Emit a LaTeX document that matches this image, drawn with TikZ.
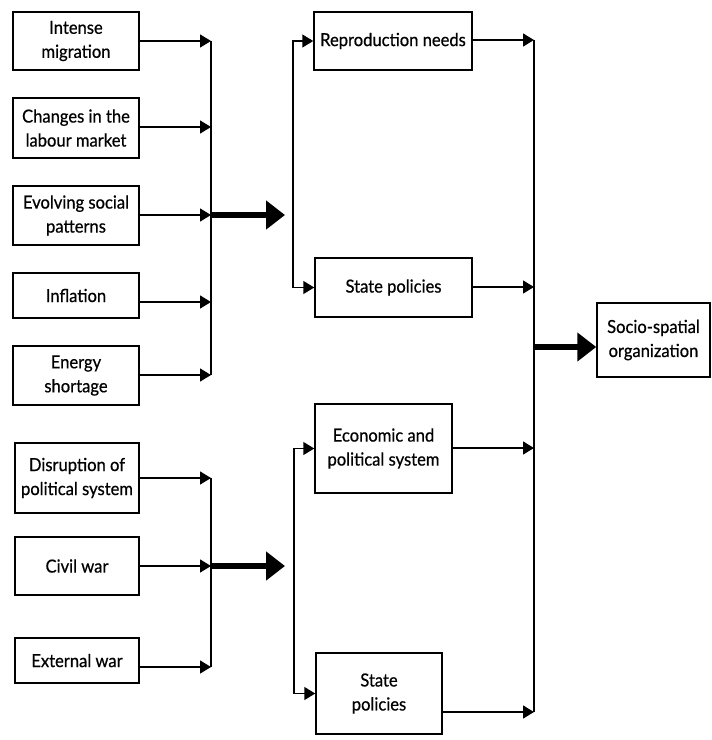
\documentclass[tikz,border=0pt]{standalone}
\usepackage{fontspec}
\setmainfont{Lato}[FakeStretch=0.92, FakeBold=0.6]
\usetikzlibrary{arrows.meta}
\begin{document}
\begin{tikzpicture}[x=1pt,y=-1pt,
  box/.style={draw, line width=1.5pt, inner sep=0pt, align=center,
    font=\fontsize{18}{24}\selectfont},
  link/.style={line width=1.5pt, -{Triangle[length=11pt,width=13pt]}},
  busline/.style={line width=1.5pt},
  bigarrow/.style={line width=6.5pt, -{Triangle[length=19pt,width=28pt]}}]
\useasboundingbox (0,0) rectangle (712,740);

% causes, upper group
\node[box, minimum width=126pt, minimum height=58pt] (im)  at (76,41)    {Intense\\migration};
\node[box, minimum width=126pt, minimum height=60pt] (lab) at (76,128)   {Changes in the\\labour market};
\node[box, minimum width=126pt, minimum height=59pt] (evo) at (76,215.5) {Evolving social\\patterns};
\node[box, minimum width=126pt, minimum height=45pt] (inf) at (76,295.5) {Inflation};
\node[box, minimum width=126pt, minimum height=59pt] (ene) at (76,375.5) {Energy\\shortage};

% causes, lower group
\node[box, minimum width=124pt, minimum height=70pt] (dis) at (77,478)   {Disruption of\\political system};
\node[box, minimum width=124pt, minimum height=58pt] (civ) at (77,566)   {Civil war};
\node[box, minimum width=124pt, minimum height=45pt] (ext) at (77,660.5) {External war};

% intermediate factors
\node[box, minimum width=158pt, minimum height=58pt] (rep) at (393,41)    {Reproduction needs};
\node[box, minimum width=157pt, minimum height=59pt] (sp1) at (393.5,287.5) {State policies};
\node[box, minimum width=137pt, minimum height=89pt] (eco) at (383.5,448.5) {Economic and\\political system};
\node[box, minimum width=126pt, minimum height=81pt] (sp2) at (379,693.5) {State\\policies};

% outcome
\node[box, minimum width=113pt, minimum height=74pt] (soc) at (653.5,340) {Socio-spatial\\organization};

% collector buses
\coordinate (a1) at (211,41);
\coordinate (a2) at (211,127);
\coordinate (a3) at (211,215);
\coordinate (a4) at (211,302);
\coordinate (a5) at (211,375);
\coordinate (c1) at (211,478);
\coordinate (c2) at (211,566);
\coordinate (c3) at (211,667);
\coordinate (ha) at (285,215);
\coordinate (hc) at (285,566);
\coordinate (bm) at (293,215);
\coordinate (dm) at (294,566);
\coordinate (r1) at (534,40);
\coordinate (r2) at (534,287);
\coordinate (r3) at (534,448);
\coordinate (r4) at (534,712);
\coordinate (r5) at (534,347);

\draw[busline] (a1) -- (a5);
\draw[busline] (c1) -- (c3);
\draw[busline] (r1) -- (r4);

\draw[link] (im.east)  -- (a1);
\draw[link] (lab.east |- a2) -- (a2);
\draw[link] (evo.east |- a3) -- (a3);
\draw[link] (inf.east |- a4) -- (a4);
\draw[link] (ene.east |- a5) -- (a5);

\draw[link] (dis.east) -- (c1);
\draw[link] (civ.east) -- (c2);
\draw[link] (ext.east |- c3) -- (c3);

\draw[bigarrow] (a3) -- (ha);
\draw[bigarrow] (c2) -- (hc);

\draw[link] (bm) |- (rep.west);
\draw[link] (bm) |- (sp1.west);
\draw[link] (dm) |- (eco.west);
\draw[link] (dm) |- (sp2.west);

\draw[link] (rep.east |- r1) -- (r1);
\draw[link] (sp1.east |- r2) -- (r2);
\draw[link] (eco.east |- r3) -- (r3);
\draw[link] (sp2.east |- r4) -- (r4);

\draw[bigarrow] (r5) -- (soc.west |- r5);
\end{tikzpicture}
\end{document}
